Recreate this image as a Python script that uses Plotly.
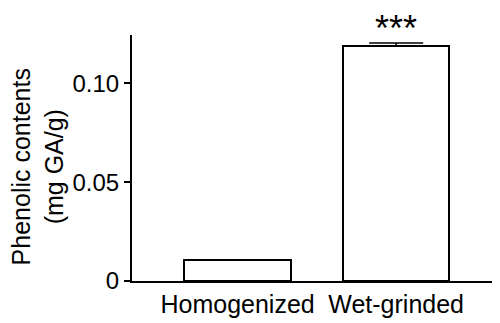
import plotly.graph_objects as go

categories = ["Homogenized", "Wet-grinded"]
values = [0.0105, 0.1189]
errors = [0.0003, 0.0015]
significance = ["", "***"]
y_tick_vals = [0, 0.05, 0.10]
y_tick_text = ["0", "0.05", "0.10"]
y_title = "Phenolic contents<br>(mg GA/g)"

FONT = "Arial, Liberation Sans, sans-serif"

fig = go.Figure()
fig.add_trace(go.Bar(
    x=[0, 1],
    y=values,
    width=0.672,
    marker=dict(color="white", line=dict(color="black", width=2)),
    error_y=dict(type="data", symmetric=False, array=errors, arrayminus=[0, 0],
                 color="black", thickness=1.5, width=27),
    showlegend=False,
))

for i, s in enumerate(significance):
    if s:
        fig.add_annotation(x=i, y=values[i] + errors[i], text=s, showarrow=False,
                           xref="x", yref="y", yanchor="bottom", yshift=-8,
                           font=dict(family=FONT, size=36, color="black"))

# y-axis title placed as rotated annotation (slightly below axis center, as in reference)
fig.add_annotation(x=-0.256, y=0.465, xref="paper", yref="paper", text=y_title,
                   showarrow=False, textangle=-90, xanchor="center", yanchor="middle",
                   borderpad=0,
                   font=dict(family=FONT, size=25, color="black"))

fig.update_layout(
    width=492, height=315,
    margin=dict(l=124, r=0, t=27, b=42),
    paper_bgcolor="white", plot_bgcolor="white",
    font=dict(family=FONT, size=24, color="black"),
    bargap=0,
)
fig.update_xaxes(
    range=[-0.666, 1.655], automargin=False,
    tickvals=[0, 1], ticktext=categories,
    showline=True, linecolor="black", linewidth=2,
    ticks="", showgrid=False, zeroline=False,
    tickfont=dict(family=FONT, size=25, color="black"),
)
fig.update_yaxes(
    range=[0, 0.1245], automargin=False,
    tickvals=y_tick_vals, ticktext=y_tick_text,
    showline=True, linecolor="black", linewidth=2,
    ticks="outside", ticklen=6, tickwidth=2, tickcolor="black",
    showgrid=False, zeroline=False,
    tickfont=dict(family=FONT, size=24, color="black"),
)

fig.write_html("out.html")
